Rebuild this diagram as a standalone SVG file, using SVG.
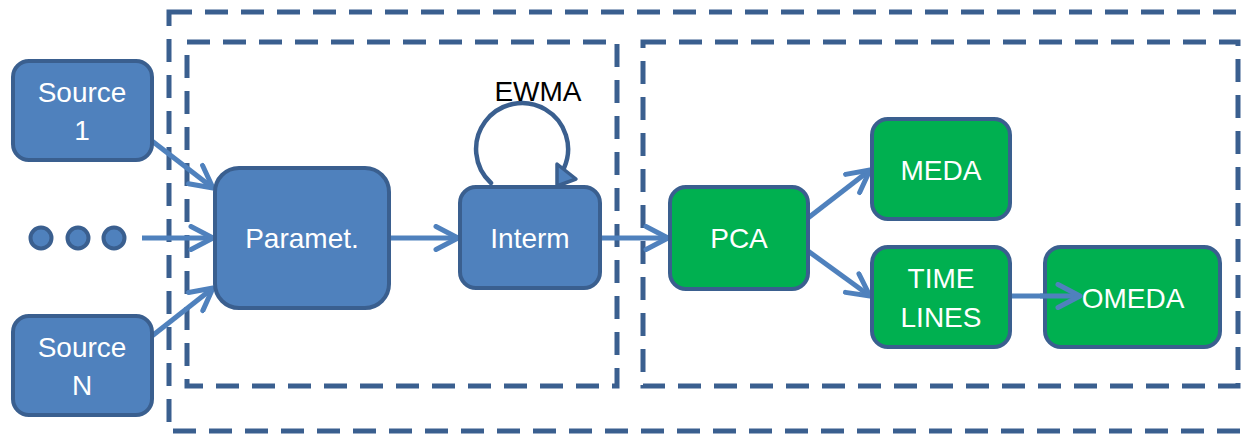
<svg xmlns="http://www.w3.org/2000/svg" width="1249" height="435" viewBox="0 0 1249 435">
  <defs>
    <style>
      .frame { fill: none; stroke: #3a5f8f; stroke-width: 5; stroke-dasharray: 23 13; }
      .blue { fill: #4f81bd; stroke: #3a5f8f; stroke-width: 4; }
      .green { fill: #00b050; stroke: #3a5f8f; stroke-width: 4; }
      .label { font-family: "Liberation Sans", Arial, sans-serif; font-size: 28px; fill: #ffffff; text-anchor: middle; }
      .flow { fill: none; stroke: #4f81bd; stroke-width: 5; marker-end: url(#chevron); }
    </style>
    <marker id="chevron" viewBox="0 0 28 28" refX="25" refY="14" markerWidth="28" markerHeight="28" markerUnits="userSpaceOnUse" orient="auto">
      <path d="M3,2.5 L25,14 L3,25.5" fill="none" stroke="#4f81bd" stroke-width="5" stroke-linecap="round" stroke-linejoin="round"/>
    </marker>
  </defs>

  <!-- dashed grouping frames -->
  <g id="frames">
    <rect class="frame" x="169" y="12" width="1100" height="419"/>
    <rect class="frame" x="187" y="42" width="430" height="344"/>
    <rect class="frame" x="643" y="42" width="595" height="344"/>
  </g>

  <!-- connectors -->
  <g id="connectors">
    <line class="flow" x1="152" y1="141" x2="213" y2="188"/>
    <line class="flow" x1="142" y1="238" x2="213" y2="238"/>
    <line class="flow" x1="152" y1="336" x2="213" y2="288"/>
    <line class="flow" x1="389" y1="238" x2="458" y2="238"/>
    <line class="flow" x1="600" y1="238" x2="668" y2="238"/>
    <line class="flow" x1="808" y1="218" x2="870" y2="170"/>
    <line class="flow" x1="808" y1="251" x2="870" y2="296"/>
    <line class="flow" x1="1010" y1="296" x2="1080" y2="296"/>
    <!-- EWMA feedback loop on Interm -->
    <path d="M491,183 A46,46 0 1 1 564,168" fill="none" stroke="#3a5f8f" stroke-width="4.5" stroke-linecap="round"/>
    <polygon points="557,164 576,179 557,186" fill="#4f81bd" stroke="#3a5f8f" stroke-width="3.5" stroke-linejoin="round"/>
  </g>

  <text x="538" y="101" font-family="'Liberation Sans', Arial, sans-serif" font-size="28" fill="#000000" text-anchor="middle">EWMA</text>

  <g id="source1">
    <rect class="blue" x="13" y="61" width="139" height="99" rx="16"/>
    <text class="label" x="82" y="102">Source</text>
    <text class="label" x="82" y="140">1</text>
  </g>

  <g id="sourceN">
    <rect class="blue" x="13" y="316" width="139" height="99" rx="16"/>
    <text class="label" x="82" y="357">Source</text>
    <text class="label" x="82" y="395">N</text>
  </g>

  <g id="ellipsis">
    <circle class="blue" cx="41" cy="238" r="10.5"/>
    <circle class="blue" cx="78" cy="238" r="10.5"/>
    <circle class="blue" cx="114" cy="238" r="10.5"/>
  </g>

  <g id="paramet">
    <rect class="blue" x="215" y="168" width="174" height="140" rx="24"/>
    <text class="label" x="302" y="248">Paramet.</text>
  </g>

  <g id="interm">
    <rect class="blue" x="460" y="187" width="140" height="101" rx="16"/>
    <text class="label" x="530" y="248">Interm</text>
  </g>

  <g id="pca">
    <rect class="green" x="670" y="187" width="138" height="102" rx="16"/>
    <text class="label" x="739" y="248">PCA</text>
  </g>

  <g id="meda">
    <rect class="green" x="872" y="119" width="138" height="100" rx="16"/>
    <text class="label" x="941" y="180">MEDA</text>
  </g>

  <g id="timelines">
    <rect class="green" x="872" y="247" width="138" height="100" rx="16"/>
    <text class="label" x="941" y="288">TIME</text>
    <text class="label" x="941" y="327">LINES</text>
  </g>

  <g id="omeda">
    <rect class="green" x="1045" y="247" width="175" height="100" rx="16"/>
    <text class="label" x="1133" y="308">OMEDA</text>
  </g>

  <!-- the TIME LINES arrow runs on into the OMEDA box -->
  <line x1="1040" y1="296" x2="1080" y2="296" stroke="#4f81bd" stroke-width="5" marker-end="url(#chevron)"/>
</svg>
